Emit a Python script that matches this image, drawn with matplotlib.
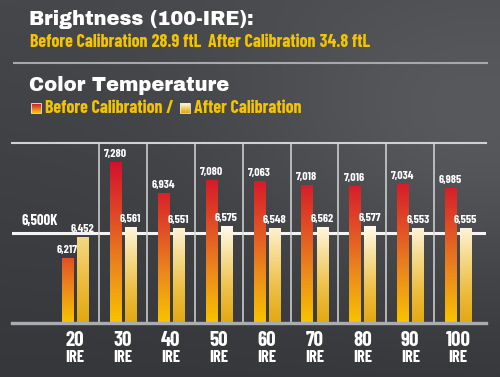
import numpy as np
import matplotlib.pyplot as plt
from matplotlib.colors import LinearSegmentedColormap, to_rgb

# --- data ---
ire = ["20", "30", "40", "50", "60", "70", "80", "90", "100"]
before = [6217, 7280, 6934, 7080, 7063, 7018, 7016, 7034, 6985]
after = [6452, 6561, 6551, 6575, 6548, 6562, 6577, 6553, 6555]
target = 6500
bright_before = 28.9
bright_after = 34.8

NARROW = ["Barlow Condensed", "Fira Sans Extra Condensed", "Roboto Condensed", "DejaVu Sans"]
HEAVY = ["Archivo Black", "Open Sans", "DejaVu Sans"]
YELLOW = "#f5c400"

W, H = 500, 377
fig = plt.figure(figsize=(W / 100, H / 100), dpi=100)

# background + header axes in pixel coords
bg = fig.add_axes([0, 0, 1, 1])
bg.set_xlim(0, W)
bg.set_ylim(H, 0)
bg.axis("off")
yy, xx = np.mgrid[0:H, 0:W]
top_c, bot_c = np.array(to_rgb("#45474b")), np.array(to_rgb("#35373a"))
t = (yy / H)[..., None]
img = top_c * (1 - t) + bot_c * t
glow = np.exp(-(((xx - 480) / 170.0) ** 2 + ((yy - 130) / 110.0) ** 2) / 2)
img = np.clip(img + glow[..., None] * 0.09, 0, 1)
bg.imshow(img, extent=[0, W, H, 0], aspect="auto", zorder=0)

# header text
head = dict(color="white", fontsize=14, fontweight="black", family=HEAVY, va="baseline")
bg.text(29, 25, "Brightness (100-IRE):", **head)
sub = dict(color=YELLOW, fontsize=13, family=NARROW, fontweight="bold")
t1 = bg.text(30, 47, "Before Calibration", va="baseline", **sub)
t2 = bg.annotate(f" {bright_before} ftL  ", (1, 0), xycoords=t1, va="bottom", **sub)
t3 = bg.annotate("After Calibration", (1, 0), xycoords=t2, va="bottom", **sub)
bg.annotate(f" {bright_after} ftL", (1, 0), xycoords=t3, va="bottom", **sub)
bg.plot([13, 488], [63, 63], color="#a6a8ab", lw=1.5, solid_capstyle="butt")
bg.text(29, 91, "Color Temperature", **head)

cm_before = LinearSegmentedColormap.from_list(
    "b", ["#f8c300", "#ec8a1c", "#e04a26", "#d4112b"])
cm_after = LinearSegmentedColormap.from_list(
    "a", ["#e2a813", "#eebf45", "#f6dc92", "#fffbee"])

def legend_square(x0, cm):
    g = np.linspace(0, 1, 32).reshape(-1, 1)
    bg.imshow(g, cmap=cm, extent=[x0, x0 + 10, 113, 103], origin="lower",
              aspect="auto", zorder=2)
    bg.add_patch(plt.Rectangle((x0, 103), 10, 10, fill=False,
                               ec="#e8e8e8", lw=0.6, zorder=3))

legend_square(31, cm_before)
bg.text(45, 113, "Before Calibration /", va="baseline", **sub)
legend_square(180, cm_after)
bg.text(194, 113, "After Calibration", va="baseline", **sub)

# --- chart ---
ax = fig.add_axes([12 / W, 1 - 323 / H, (486 - 12) / W, (323 - 143) / H])
ax.patch.set_alpha(0)
ax.axis("off")
ymin, ymax = 5510, 7490
x = np.arange(len(ire))
xl = (-1.315, 8.58)
bw, off = 0.23, 0.157

ax.axhline(ymax, color="#cfd0d2", lw=1.5, clip_on=False, zorder=1)
ax.axhline(target, color="#f4f4f4", lw=2.2, zorder=1)
for xd in x[:-1] + 0.5:
    ax.plot([xd, xd], [ymin, ymax], color="#d6d7d9", lw=1.1, zorder=1)

def grad_bar(xc, v, cm, frac):
    g = np.linspace(0, frac, 128).reshape(-1, 1)
    ax.imshow(g, cmap=cm, vmin=0, vmax=1, origin="lower", aspect="auto",
              extent=[xc - bw / 2, xc + bw / 2, ymin, v], zorder=3)

bmax, amax = max(before), max(after)
for i in x:
    fb = ((before[i] - ymin) / (bmax - ymin)) ** 0.5
    fa = ((after[i] - ymin) / (amax - ymin)) ** 4
    grad_bar(i - off, before[i], cm_before, fb)
    grad_bar(i + off, after[i], cm_after, fa)
    for xc, v in ((i - off, before[i]), (i + off, after[i])):
        ax.annotate(f"{v:,}", (xc, v), xytext=(0, 2.5), textcoords="offset points",
                    ha="center", va="bottom", color="white", fontsize=8.5,
                    fontweight="bold", family=NARROW, zorder=4)
    ax.annotate(ire[i], (i, ymin), xytext=(0, -12.5), textcoords="offset points",
                ha="center", va="center", color="white", fontsize=15,
                fontweight="bold", family=NARROW, annotation_clip=False)
    ax.annotate("IRE", (i, ymin), xytext=(0, -25), textcoords="offset points",
                ha="center", va="center", color="white", fontsize=12,
                fontweight="bold", family=NARROW, annotation_clip=False)

ax.axhline(ymin, color="#a9acb0", lw=2.4, clip_on=False, zorder=5)
ax.annotate("6,500K", (xl[0], target), xytext=(6.5, 8.6), textcoords="offset points",
            ha="left", va="center", color="white", fontsize=10.5,
            fontweight="bold", family=NARROW)

ax.set_xlim(*xl)
ax.set_ylim(ymin, ymax)

fig.savefig("out.png", dpi=100)
